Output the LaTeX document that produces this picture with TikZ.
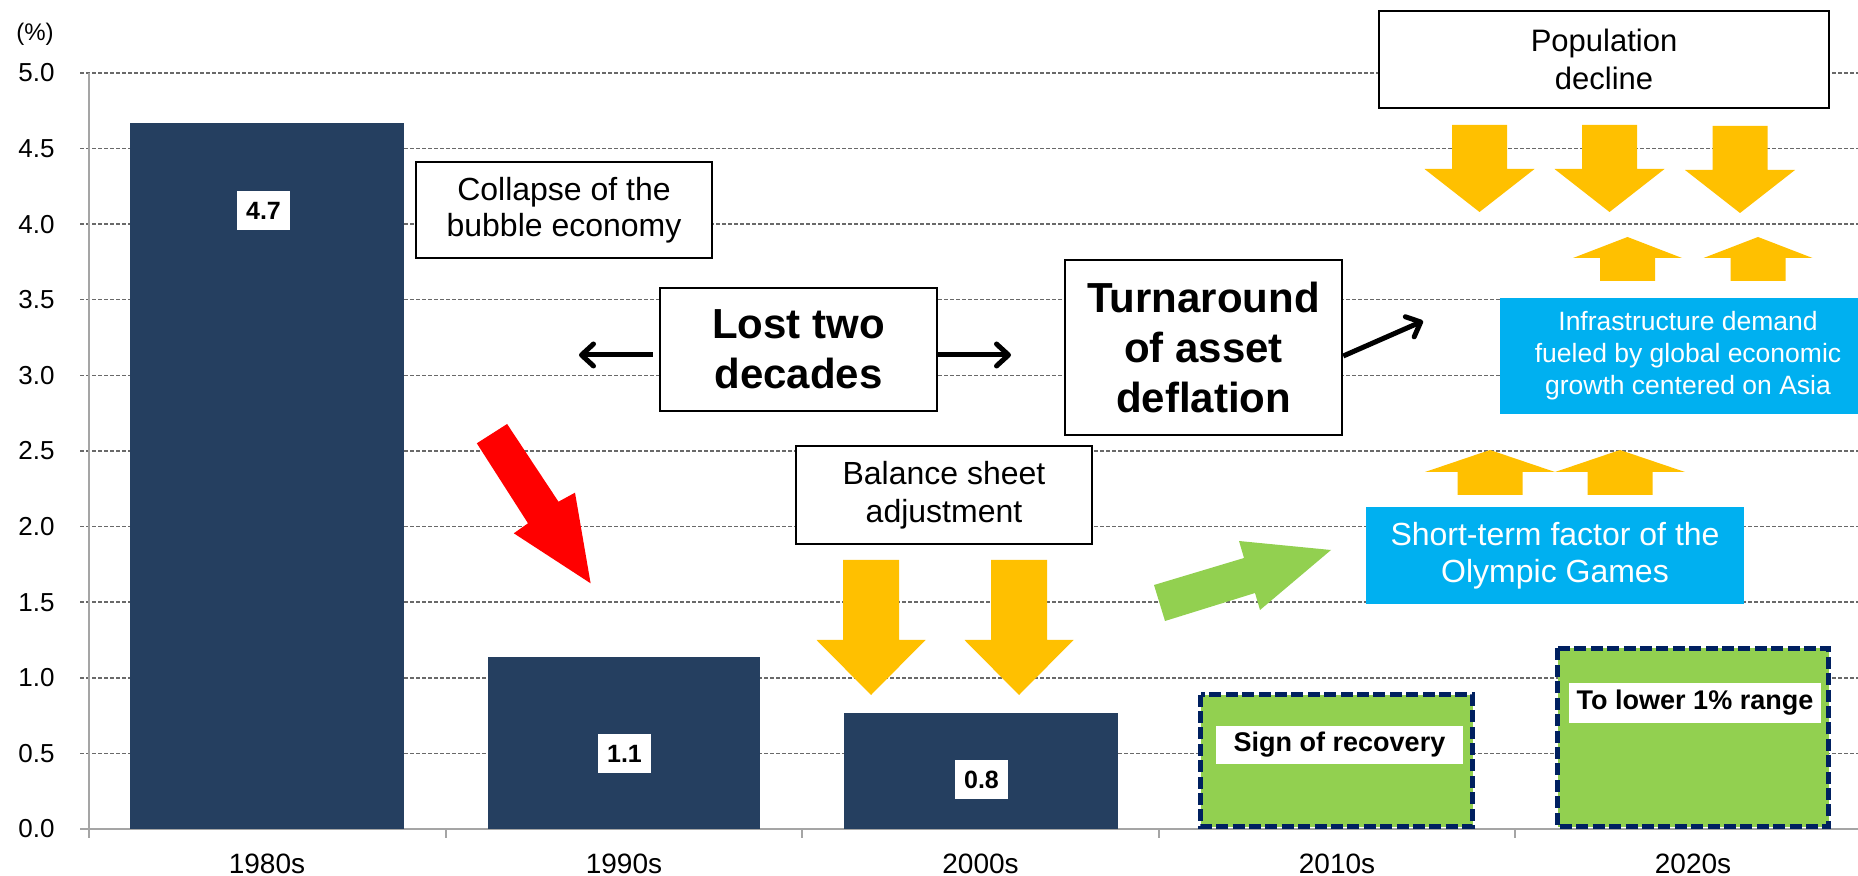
\documentclass[tikz,border=0pt]{standalone}
\usepackage{fontspec}
\setmainfont{Liberation Sans}
\usetikzlibrary{arrows.meta,calc}
\definecolor{barnavy}{RGB}{37,63,96}
\definecolor{ayellow}{RGB}{255,192,0}
\definecolor{acyan}{RGB}{0,176,240}
\definecolor{agreen}{RGB}{146,208,80}
\definecolor{dnavy}{RGB}{0,32,96}
\definecolor{gridgray}{RGB}{105,105,105}
\definecolor{axisgray}{RGB}{165,165,165}
% vertical block arrow: centre x, base y, head-base y, tip y, shaft half-width, head half-width
\newcommand\yblockarr[6]{\fill[ayellow] ({#1-#5},#2) -- ({#1+#5},#2) -- ({#1+#5},#3) -- ({#1+#6},#3) -- (#1,#4) -- ({#1-#6},#3) -- ({#1-#5},#3) -- cycle;}
\begin{document}
\begin{tikzpicture}[x=0.5pt,y=-0.5pt,
  gridline/.style={gridgray, line width=0.7pt, dash pattern=on 1.8pt off 1.2pt},
  axisline/.style={axisgray, line width=0.8pt},
  whitebox/.style={draw=black, line width=1.25pt, fill=white, align=center, inner sep=0pt},
  cyanbox/.style={fill=acyan, text=white, align=center, inner sep=0pt},
  vallab/.style={fill=white, inner sep=0pt, minimum width=26.5pt, minimum height=19.5pt, font=\bfseries\fontsize{12.5}{14}\selectfont},
  glab/.style={fill=white, inner sep=0pt, font=\bfseries\fontsize{13.5}{15}\selectfont},
  ylab/.style={anchor=east, inner sep=0pt, font=\fontsize{13}{15}\selectfont},
  catlab/.style={anchor=base, inner sep=0pt, font=\fontsize{14}{16}\selectfont},
  greenbar/.style={fill=agreen, draw=dnavy, line width=2.4pt, dash pattern=on 6pt off 2.2pt},
  blkarrow/.style={line width=2.5pt, -{Straight Barb[length=6pt,width=11pt,round]}}
]
\clip (0,0) rectangle (1858,876);
\fill[white] (0,0) rectangle (1858,876);

% grid
\foreach \k in {1,...,10}
  \draw[gridline] (80,{829-\k*75.6}) -- (1858,{829-\k*75.6});
\foreach \k/\t in {0/0.0,1/0.5,2/1.0,3/1.5,4/2.0,5/2.5,6/3.0,7/3.5,8/4.0,9/4.5,10/5.0}
  \node[ylab] (yl\k) at (55,{829-\k*75.6}) {\t};
\node[inner sep=0pt, font=\fontsize{12}{14}\selectfont] (pct) at (35,34) {(\%)};

% axes
\draw[axisline] (89,73) -- (89,838);
\draw[axisline] (80,829) -- (1858,829);
\foreach \x in {446,802,1159,1515}
  \draw[axisline] (\x,829) -- (\x,838);

% bars
\fill[barnavy] (130,829) rectangle (404,123);
\fill[barnavy] (488,829) rectangle (760,657);
\fill[barnavy] (844,829) rectangle (1118,713);
\draw[greenbar] (1200.5,694.5) rectangle (1472.5,826.5);
\draw[greenbar] (1557.5,648.5) rectangle (1828.5,826.5);

% category labels
\node[catlab] (c80) at (267,873) {1980s};
\node[catlab] (c90) at (624,873) {1990s};
\node[catlab] (c00) at (980.5,873) {2000s};
\node[catlab] (c10) at (1337,873) {2010s};
\node[catlab] (c20) at (1693,873) {2020s};

% value labels
\node[vallab] (v80) at (263.5,211) {4.7};
\node[vallab] (v90) at (624.5,753.5) {1.1};
\node[vallab] (v00) at (981.5,779.5) {0.8};
\node[glab, minimum width=123.5pt, minimum height=19pt] (sign) at (1339.5,745) {Sign of recovery};
\node[glab, minimum width=126pt, minimum height=20pt] (lower) at (1695,703) {To lower 1\% range};

% red and green block arrows
\fill[red] (476.8,443.3) -- (507.1,424) -- (558.5,501.7) -- (575,492.7) -- (590.6,583.3) -- (513.8,533.3) -- (528,523.3) -- cycle;
\fill[agreen] (1154,585) -- (1244,558) -- (1239,541) -- (1331,550) -- (1260,610) -- (1255,593) -- (1165,621) -- cycle;

% yellow block arrows
\yblockarr{871}{560}{640}{695}{28}{54.5}
\yblockarr{1019}{560}{640}{695}{28}{54.5}
\yblockarr{1479.5}{125}{169}{212}{27.5}{55}
\yblockarr{1609.5}{125}{169}{212}{27.5}{55}
\yblockarr{1740}{126}{170}{213}{27.5}{55}
\yblockarr{1627.5}{281}{258}{237}{27.5}{54.5}
\yblockarr{1758}{281}{258}{237}{27.5}{54.5}
\yblockarr{1490}{495}{472}{450}{32.5}{65}
\yblockarr{1620}{495}{472}{450}{32.5}{65}

% text boxes
\node[whitebox, minimum width=148pt, minimum height=48pt, font=\fontsize{16}{18}\selectfont] (collapse) at (564,210) {Collapse of the\\bubble economy};
\node[whitebox, minimum width=138.5pt, minimum height=61.5pt, font=\bfseries\fontsize{21}{25}\selectfont] (lost) at (798.5,349.5) {Lost two\\decades};
\node[whitebox, minimum width=138.5pt, minimum height=87.5pt, font=\bfseries\fontsize{21}{25}\selectfont] (turn) at (1203.5,347.5) {Turnaround\\of asset\\deflation};
\node[whitebox, minimum width=148pt, minimum height=49pt, font=\fontsize{16}{19}\selectfont] (balance) at (944,495) {Balance sheet\\adjustment};
\node[whitebox, minimum width=225pt, minimum height=48.5pt, font=\fontsize{15.5}{19}\selectfont] (pop) at (1604,59.5) {Population\\decline};
\node[cyanbox, minimum width=188pt, minimum height=58pt, font=\fontsize{13.25}{16}\selectfont] (infra) at (1688,356) {Infrastructure demand\\fueled by global economic\\growth centered on Asia};
\node[cyanbox, minimum width=189pt, minimum height=48.5pt, font=\fontsize{16}{18.5}\selectfont] (olymp) at (1555,555.5) {Short-term factor of the\\Olympic Games};

% black arrows
\coordinate (ltip) at (579,355);
\coordinate (rtip) at (1011,355);
\coordinate (ttip) at (1423,321);
\draw[blkarrow] ([xshift=-3pt,yshift=-2.75pt]lost.west) -- (ltip);
\draw[blkarrow] ([yshift=-2.75pt]lost.east) -- (rtip);
\draw[blkarrow] ([yshift=-4.25pt]turn.east) -- (ttip);
\end{tikzpicture}
\end{document}
